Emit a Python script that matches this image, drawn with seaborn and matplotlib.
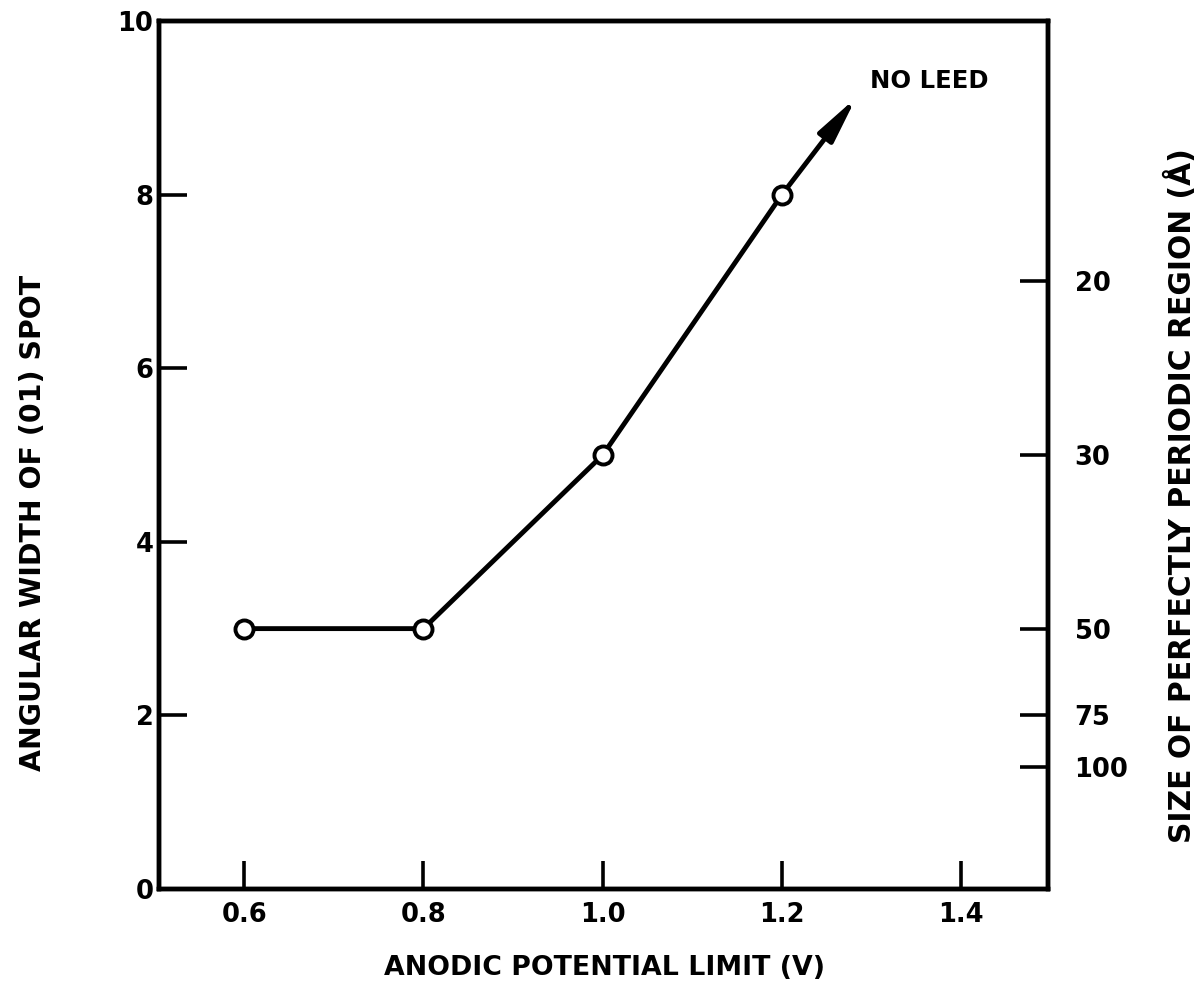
import matplotlib
matplotlib.use("Agg")
import matplotlib.pyplot as plt
import seaborn as sns
import pandas as pd

# Measured spot widths versus anodic potential limit
potential_v = [0.6, 0.8, 1.0, 1.2]
angular_width = [3, 3, 5, 8]

# Direction of the "no LEED" trend beyond the last measurement
arrow_tip = (1.283, 9.12)
arrow_label = "NO LEED"

x_ticks = [0.6, 0.8, 1.0, 1.2, 1.4]
x_tick_labels = ["0.6", "0.8", "1.0", "1.2", "1.4"]
y_ticks = [0, 2, 4, 6, 8, 10]
y_tick_labels = ["0", "2", "4", "6", "8", "10"]

# Periodic-region size scale (Å) and the angular widths it corresponds to
size_labels = ["20", "30", "50", "75", "100"]
size_positions = [7.0, 5.0, 3.0, 2.0, 1.4]

x_label = "ANODIC POTENTIAL LIMIT (V)"
y_label = "ANGULAR WIDTH OF (01) SPOT"
y2_label = "SIZE OF PERFECTLY PERIODIC REGION (Å)"

sns.set_theme(style="ticks")
plt.rcParams["font.family"] = ["DejaVu Sans"]
plt.rcParams["font.weight"] = "bold"
for key in ("text.color", "axes.labelcolor", "xtick.color", "ytick.color",
            "axes.edgecolor"):
    plt.rcParams[key] = "black"

df = pd.DataFrame({"potential": potential_v, "width": angular_width})

fig = plt.figure(figsize=(12.02, 9.88), dpi=100)
ax = fig.add_axes([0.1323, 0.1002, 0.7397, 0.8785])

LW = 3.5
sns.lineplot(data=df, x="potential", y="width", ax=ax, color="black",
             linewidth=LW, marker="o", markersize=13,
             markerfacecolor="white", markeredgecolor="black",
             markeredgewidth=2.8, zorder=3)

ax.annotate("", xy=arrow_tip, xytext=(potential_v[-1], angular_width[-1]),
            arrowprops=dict(arrowstyle="-|>,head_length=2.3,head_width=0.45",
                            color="black", lw=LW, shrinkA=7, shrinkB=0),
            zorder=2)
ax.text(1.298, 9.23, arrow_label, fontsize=17.5, fontweight="bold",
        ha="left", va="baseline")

ax.set_xlim(0.505, 1.497)
ax.set_ylim(0, 10)
ax.set_xticks(x_ticks)
ax.set_xticklabels(x_tick_labels)
ax.set_yticks(y_ticks)
ax.set_yticklabels(y_tick_labels)

for s in ax.spines.values():
    s.set_linewidth(3.2)
    s.set_color("black")

ax.tick_params(axis="x", direction="in", length=20, width=2.6,
               labelsize=18.5, pad=9)
ax.tick_params(axis="y", direction="in", length=20, width=2.6,
               labelsize=18.5, pad=4)

ax.set_xlabel(x_label, fontsize=19.3, fontweight="bold")
ax.xaxis.set_label_coords(0.501, -0.076)
ax.set_ylabel(y_label, fontsize=20.4, fontweight="bold")
ax.yaxis.set_label_coords(-0.126, 0.4217)

ax2 = ax.twinx()
ax2.set_ylim(ax.get_ylim())
ax2.set_yticks(size_positions)
ax2.set_yticklabels(size_labels)
ax2.tick_params(axis="y", direction="in", length=20, width=2.6,
                labelsize=18.5, pad=19)
for s in ax2.spines.values():
    s.set_linewidth(3.2)
    s.set_color("black")
ax2.set_ylabel(y2_label, fontsize=21.4, fontweight="bold")
ax2.yaxis.set_label_coords(1.1315, 0.453)
ax2.grid(False)
ax.grid(False)

for lab in ax.get_xticklabels() + ax.get_yticklabels() + ax2.get_yticklabels():
    lab.set_fontweight("bold")

fig.savefig("out.png", dpi=100, facecolor="white")
